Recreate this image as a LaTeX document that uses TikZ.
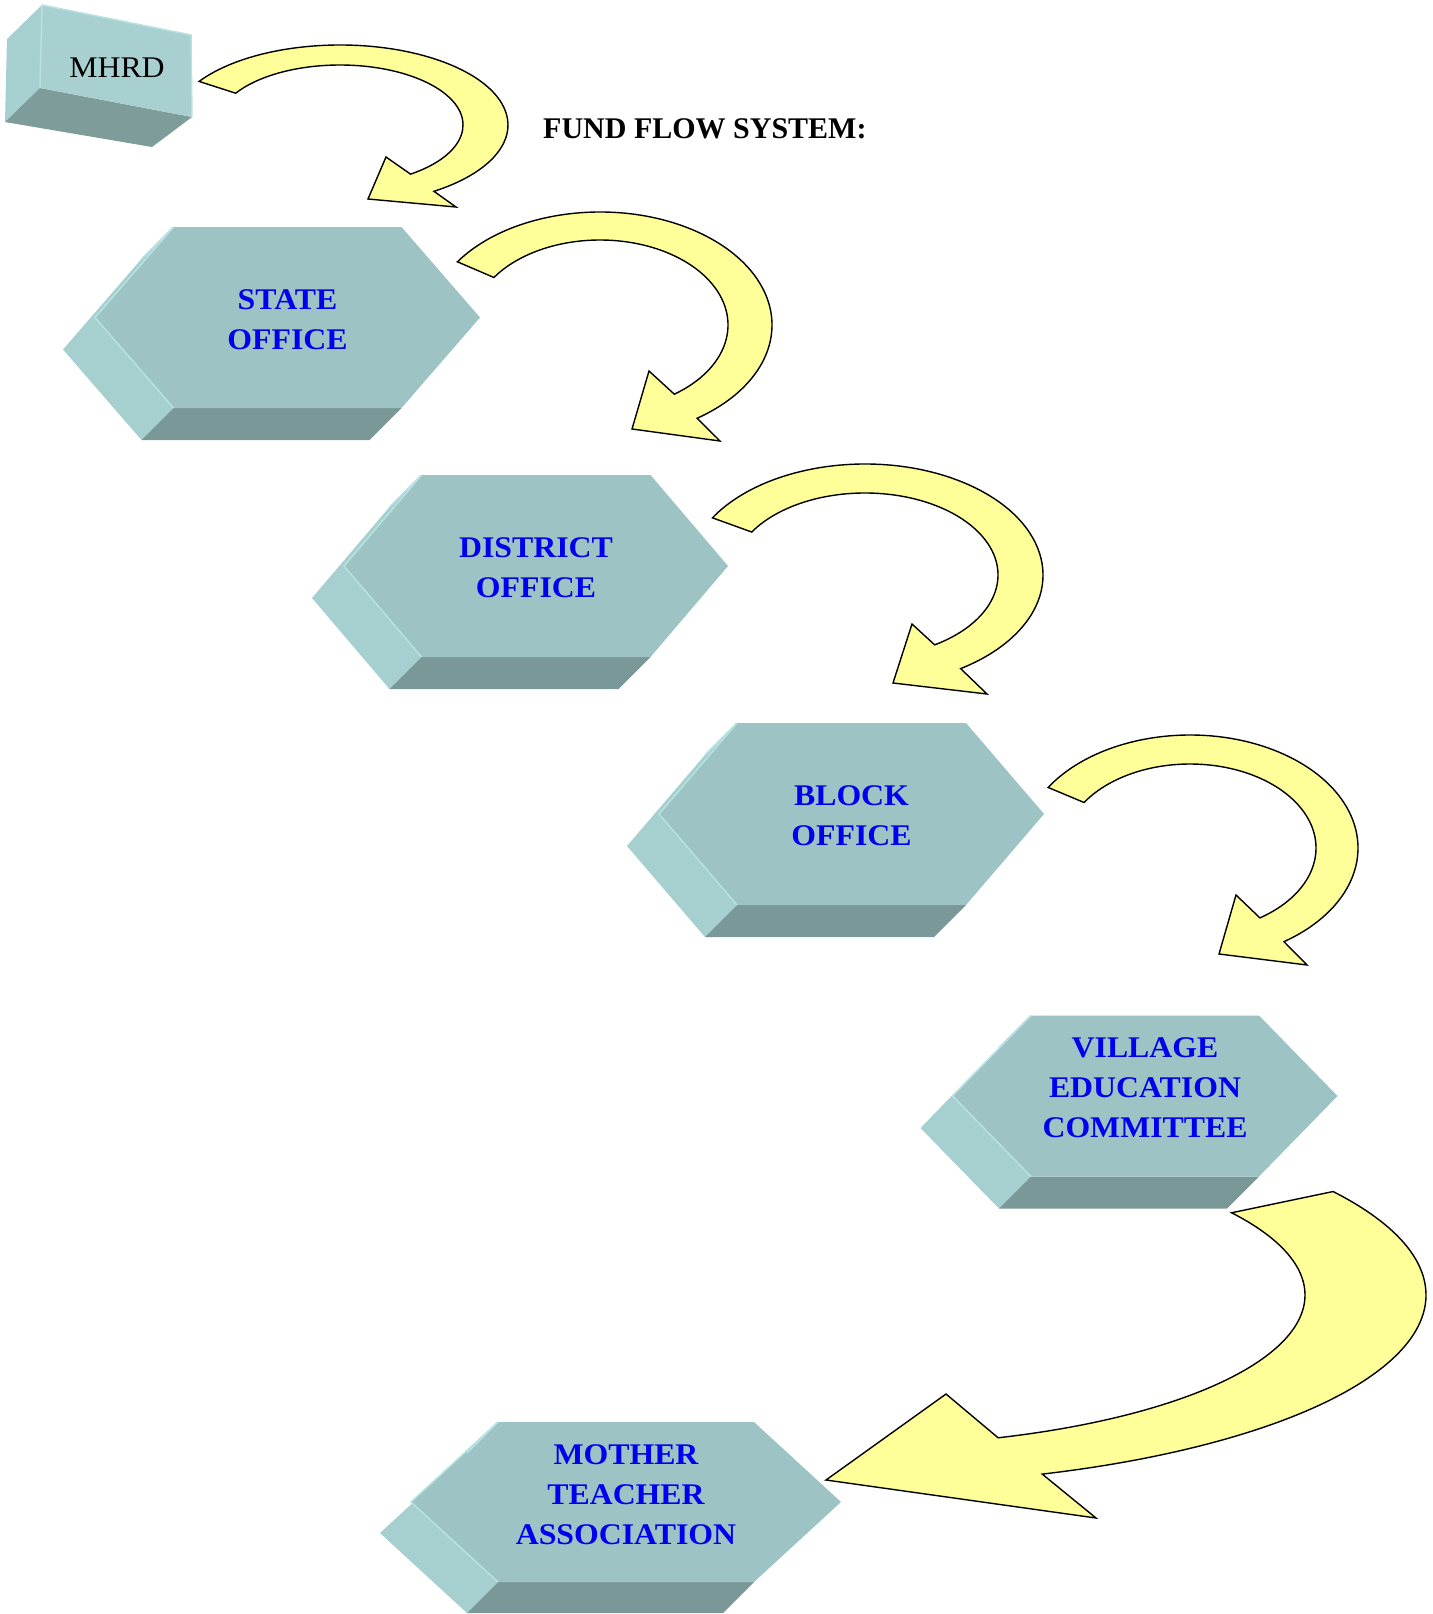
\documentclass[tikz,border=0pt]{standalone}
\usepackage{fontspec}
\setmainfont{Liberation Serif}
\newfontfamily\widefont{Liberation Serif}[FakeStretch=1.06]

\definecolor{hexfront}{RGB}{157,195,196}
\definecolor{hexside}{RGB}{166,207,208}
\definecolor{hexbottom}{RGB}{122,152,151}
\definecolor{hexedge}{RGB}{182,226,226}
\definecolor{boxfront}{RGB}{168,208,208}
\definecolor{boxbottom}{RGB}{126,156,154}
\definecolor{flowyellow}{RGB}{255,255,153}
\definecolor{labelblue}{RGB}{0,0,238}

\tikzset{
  frontface/.style={fill=hexfront},
  sideface/.style={fill=hexside},
  bottomface/.style={fill=hexbottom},
  rimline/.style={draw=hexedge, line width=1.5pt, line join=round},
  unitlabel/.style={font=\widefont\bfseries\fontsize{30}{40}\selectfont, text=labelblue,
                    align=center, inner sep=0pt},
  flowarrow/.style={fill=flowyellow, draw=black, line width=1.4pt, line join=miter},
}

% extruded hexagon: centre x, centre y, half top width, half full width, half height, depth
\newcommand\hexprism[6]{%
  \begin{scope}[shift={(#1,#2)}]
    \fill[sideface] (-#3,-#5) -- (-#4,0) -- (-#3,#5) -- (-#3-#6,#5+#6)
                    -- (-#4-#6,#6) -- (-#3-#6,-#5+#6) -- cycle;
    \fill[bottomface] (-#3,#5) -- (#3,#5) -- (#3-#6,#5+#6) -- (-#3-#6,#5+#6) -- cycle;
    \fill[frontface] (-#3,-#5) -- (#3,-#5) -- (#4,0) -- (#3,#5) -- (-#3,#5) -- (-#4,0) -- cycle;
    \draw[rimline] (-#3-#6,-#5+#6) -- (-#3,-#5);
    \draw[rimline] (-#3,-#5) -- (-#4,0) -- (-#3,#5);
  \end{scope}}

\begin{document}
\begin{tikzpicture}[x=1pt, y=-1pt]
  \useasboundingbox (0,0) rectangle (1432,1614);
  \fill[white] (0,0) rectangle (1432,1614);

  % MHRD block
  \fill[hexside] (7,39) -- (42,5) -- (40,88) -- (5,122) -- cycle;
  \fill[boxbottom] (5,122) -- (40,88) -- (192,117) -- (152,147) -- cycle;
  \fill[boxfront] (42,5) -- (191,35) -- (192,117) -- (40,88) -- cycle;
  \draw[rimline] (40,88) -- (42,5) -- (191,35) -- (192,117);
  \node[font=\widefont\fontsize{30}{34}\selectfont, anchor=base, inner sep=0pt] (mhrd) at (117,77) {MHRD};

  % heading
  \node[font=\bfseries\fontsize{30}{34}\selectfont, anchor=base west, inner sep=0pt]
    (title) at (543,138) {FUND FLOW SYSTEM:};

  % office prisms
  \hexprism{287.5}{317.5}{114}{192.5}{90.5}{32}
  \node[unitlabel] (state) at (287.5,320) {STATE\\OFFICE};

  \hexprism{536}{566}{114.5}{192}{91}{32}
  \node[unitlabel] (district) at (536,568) {DISTRICT\\OFFICE};

  \hexprism{851.5}{814}{114.5}{192.5}{91}{32}
  \node[unitlabel] (block) at (851.5,816) {BLOCK\\OFFICE};

  \hexprism{1145}{1096}{114}{192.5}{80.5}{32}
  \node[unitlabel] (vec) at (1145,1088) {VILLAGE\\EDUCATION\\COMMITTEE};

  \hexprism{626}{1502}{128}{215}{80}{31}
  \node[unitlabel] (mta) at (626,1495) {MOTHER\\TEACHER\\ASSOCIATION};

  % curved flow arrows
  \coordinate (c1) at (340,125);
  \coordinate (c2) at (600,325);
  \coordinate (c3) at (865,575);
  \coordinate (c4) at (1190,848);
  \coordinate (c5) at (850,1295);

  \draw[flowarrow] ([shift={(213:168 and 80)}]c1)
      arc[start angle=213, end angle=416, x radius=168, y radius=80]
      -- ([shift={(116,82)}]c1) -- ([shift={(28,74)}]c1) -- ([shift={(46,32)}]c1)
      -- ([shift={(415:123 and 60)}]c1)
      arc[start angle=415, end angle=212, x radius=123, y radius=60] -- cycle;

  \draw[flowarrow] ([shift={(214:172 and 113)}]c2)
      arc[start angle=214, end angle=415.6, x radius=172, y radius=113]
      -- ([shift={(120,116)}]c2) -- ([shift={(32,104)}]c2) -- ([shift={(49,46)}]c2)
      -- ([shift={(414.5:128 and 85)}]c2)
      arc[start angle=414.5, end angle=214, x radius=128, y radius=85] -- cycle;

  \draw[flowarrow] ([shift={(211:178 and 111)}]c3)
      arc[start angle=211, end angle=417.5, x radius=178, y radius=111]
      -- ([shift={(122,119)}]c3) -- ([shift={(28,108)}]c3) -- ([shift={(47,49)}]c3)
      -- ([shift={(418.4:133 and 82)}]c3)
      arc[start angle=418.4, end angle=211.6, x radius=133, y radius=82] -- cycle;

  \draw[flowarrow] ([shift={(212.4:168 and 113)}]c4)
      arc[start angle=212.4, end angle=416, x radius=168, y radius=113]
      -- ([shift={(117,117)}]c4) -- ([shift={(29,106)}]c4) -- ([shift={(46,47)}]c4)
      -- ([shift={(416.3:126 and 84)}]c4)
      arc[start angle=416.3, end angle=212.8, x radius=126, y radius=84] -- cycle;

  \draw[flowarrow] ([shift={(-33:576 and 190)}]c5)
      arc[start angle=-33, end angle=70.5, x radius=576, y radius=190]
      -- ([shift={(246,223)}]c5) -- ([shift={(-24,185)}]c5) -- ([shift={(96,99)}]c5)
      -- ([shift={(71:455 and 151)}]c5)
      arc[start angle=71, end angle=-33, x radius=455, y radius=151] -- cycle;
\end{tikzpicture}
\end{document}
